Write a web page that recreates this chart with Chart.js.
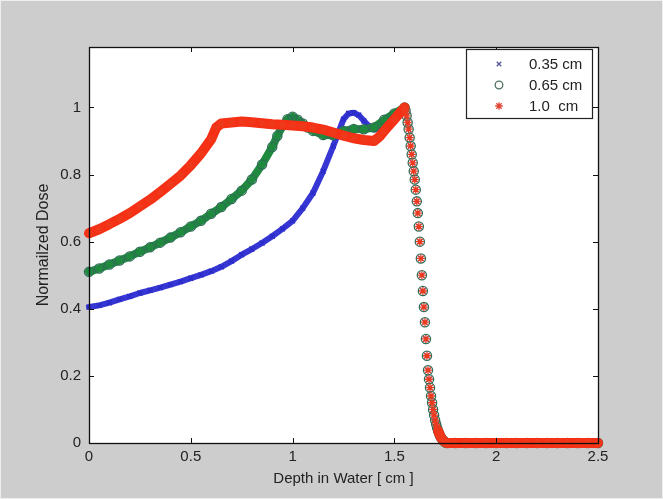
<!DOCTYPE html>
<html>
<head>
<meta charset="utf-8">
<script src="https://cdn.jsdelivr.net/npm/chart.js@4/dist/chart.umd.min.js"></script>
<style>
  html, body { margin: 0; padding: 0; background: #cdcdcd; overflow: hidden; }
  canvas { display: block; }
</style>
</head>
<body>
<canvas id="c" width="663" height="499"></canvas>
<script>
// depth-dose curves (depth in cm, dose normalised)
const seriesLabels = ["0.35 cm", "0.65 cm", "1.0  cm"];

const depth035 = [0, 0.05, 0.1, 0.15, 0.2, 0.25, 0.3, 0.35, 0.4, 0.45, 0.5, 0.55, 0.6, 0.65, 0.7, 0.75, 0.8, 0.85, 0.9, 0.95, 1.0, 1.05, 1.1, 1.15, 1.2,
  1.225, 1.25, 1.275, 1.3, 1.325, 1.35, 1.375, 1.4, 1.425, 1.45, 1.475, 1.5, 1.525, 1.55];
const dose035 = [0.405, 0.41, 0.418, 0.428, 0.437, 0.447, 0.455, 0.463, 0.472, 0.481, 0.491, 0.501, 0.512, 0.525, 0.542, 0.561, 0.578, 0.596, 0.616, 0.638, 0.662, 0.7, 0.745, 0.81, 0.885,
  0.925, 0.965, 0.982, 0.984, 0.977, 0.96, 0.944, 0.935, 0.938, 0.95, 0.964, 0.977, 0.99, 1.0];

const depth065 = [0, 0.05, 0.1, 0.15, 0.2, 0.25, 0.3, 0.35, 0.4, 0.45, 0.5, 0.55, 0.6, 0.65, 0.7, 0.75, 0.8, 0.85,
  0.9, 0.925, 0.95, 0.975, 1.0, 1.025, 1.05, 1.075, 1.1, 1.15, 1.2, 1.25, 1.3, 1.35, 1.4, 1.45, 1.5, 1.55];
const dose065 = [0.51, 0.52, 0.532, 0.544, 0.556, 0.57, 0.583, 0.597, 0.612, 0.628, 0.645, 0.662, 0.683, 0.703, 0.727, 0.752, 0.785, 0.83,
  0.882, 0.915, 0.945, 0.965, 0.972, 0.963, 0.952, 0.94, 0.93, 0.918, 0.917, 0.93, 0.936, 0.935, 0.94, 0.963, 0.982, 1.0];

const depth100 = [0, 0.05, 0.1, 0.15, 0.2, 0.25, 0.3, 0.35, 0.4, 0.45, 0.5, 0.55, 0.6, 0.625, 0.65,
  0.7, 0.75, 0.8, 0.85, 0.9, 0.95, 1.0, 1.05, 1.1, 1.15, 1.2, 1.25, 1.3, 1.35, 1.4, 1.425, 1.45, 1.5, 1.55];
const dose100 = [0.625, 0.637, 0.652, 0.668, 0.685, 0.705, 0.725, 0.748, 0.772, 0.797, 0.828, 0.863, 0.905, 0.94, 0.952,
  0.955, 0.958, 0.956, 0.953, 0.95, 0.948, 0.946, 0.944, 0.94, 0.934, 0.925, 0.916, 0.908, 0.903, 0.9, 0.912, 0.93, 0.965, 1.0];

// distal fall-off and tail are the same for all three widths
const depthFall = [1.555, 1.56, 1.565, 1.57, 1.575, 1.58, 1.585, 1.59, 1.595, 1.6, 1.605, 1.61, 1.615, 1.62, 1.625, 1.63, 1.635, 1.64, 1.645, 1.65,
  1.655, 1.66, 1.665, 1.67, 1.675, 1.68, 1.685, 1.69, 1.695, 1.7, 1.705, 1.71, 1.715, 1.72, 1.725, 1.73, 1.735, 1.74, 1.745, 1.75, 1.755, 1.76];
const doseFall = [0.99, 0.975, 0.955, 0.935, 0.91, 0.885, 0.86, 0.835, 0.81, 0.785, 0.755, 0.72, 0.685, 0.645, 0.6, 0.55, 0.5, 0.453, 0.405, 0.36,
  0.31, 0.26, 0.217, 0.19, 0.165, 0.14, 0.12, 0.1, 0.083, 0.068, 0.056, 0.045, 0.036, 0.028, 0.021, 0.015, 0.011, 0.007, 0.004, 0.002, 0.001, 0];
const depthTail = [1.8, 1.85, 1.9, 1.95, 2.0, 2.05, 2.1, 2.15, 2.2, 2.25, 2.3, 2.35, 2.4, 2.45, 2.5];
const doseTail = [0, 0, 0, 0, 0, 0, 0, 0, 0, 0, 0, 0, 0, 0, 0];

const xTicks = [0, 0.5, 1, 1.5, 2, 2.5];
const yTicks = [0, 0.2, 0.4, 0.6, 0.8, 1];

function pts(d, v) { return d.map((x, i) => ({ x, y: v[i] })); }
function curve(d, v) { return pts(d, v).concat(pts(depthFall, doseFall), pts(depthTail, doseTail)); }

// no band through the steep fall-off, only markers (as in the original)
const gap = c => (c.p0.parsed.x >= 1.55 && c.p0.parsed.y > 0.04) ? "rgba(0,0,0,0)" : undefined;

function ds(label, data, color, marker, pcolor, width, radius, order) {
  return {
    label, data, order,
    showLine: true,
    borderColor: color,
    borderWidth: width,
    borderCapStyle: "round",
    borderJoinStyle: "round",
    segment: { borderColor: gap },
    pointStyle: marker,
    pointRadius: radius,
    pointBorderColor: pcolor,
    pointBackgroundColor: "rgba(0,0,0,0)",
    pointBorderWidth: 1.3,
    clip: false,
  };
}

const font = "'Liberation Sans', Arial, sans-serif";

const frame = {
  id: "frame",
  beforeDraw(chart) {
    const { ctx, chartArea: a } = chart;
    ctx.save();
    ctx.fillStyle = "#cdcdcd";
    ctx.fillRect(0, 0, chart.width, chart.height);
    ctx.strokeStyle = "#eeeeee";
    ctx.strokeRect(0.5, 0.5, chart.width - 1, chart.height - 1);
    ctx.fillStyle = "#ffffff";
    ctx.fillRect(a.left, a.top, a.right - a.left, a.bottom - a.top);
    ctx.restore();
  },
  afterDatasetsDraw(chart) {
    const { ctx, chartArea: a, scales } = chart;
    ctx.save();
    ctx.strokeStyle = "#111";
    ctx.lineWidth = 1;
    ctx.beginPath();
    for (const v of xTicks) {
      const px = Math.round(scales.x.getPixelForValue(v)) + 0.5;
      ctx.moveTo(px, a.bottom); ctx.lineTo(px, a.bottom - 5);
      ctx.moveTo(px, a.top); ctx.lineTo(px, a.top + 5);
    }
    for (const v of yTicks) {
      const py = Math.round(scales.y.getPixelForValue(v)) + 0.5;
      ctx.moveTo(a.left, py); ctx.lineTo(a.left + 5, py);
      ctx.moveTo(a.right, py); ctx.lineTo(a.right - 5, py);
    }
    ctx.stroke();
    ctx.lineWidth = 1.3;
    ctx.strokeRect(Math.round(a.left) + 0.5, Math.round(a.top) + 0.5, Math.round(a.right - a.left), Math.round(a.bottom - a.top));

    // legend box, inside the top right corner
    const bx = a.right - 132, by = a.top + 2, bw = 126, bh = 69;
    ctx.fillStyle = "#fff";
    ctx.fillRect(bx, by, bw, bh);
    ctx.lineWidth = 1.2;
    ctx.strokeStyle = "#222";
    ctx.strokeRect(bx + 0.5, by + 0.5, bw, bh);
    const legendMarks = [["crossRot", "#55559a", 3.2], ["circle", "#4f7060", 3.8], ["star", "#e04a3a", 3.8]];
    ctx.font = "15px " + font;
    ctx.textBaseline = "middle";
    ctx.textAlign = "left";
    seriesLabels.forEach((lab, i) => {
      const y = by + 15 + i * 21;
      ctx.strokeStyle = legendMarks[i][1];
      ctx.fillStyle = "rgba(0,0,0,0)";
      ctx.lineWidth = 1.3;
      Chart.helpers.drawPoint(ctx, { pointStyle: legendMarks[i][0], radius: legendMarks[i][2], borderWidth: 1.3 }, bx + 33, y);
      ctx.fillStyle = "#222";
      ctx.fillText(lab, bx + 63, y + 1);
    });
    ctx.restore();
  },
};

new Chart(document.getElementById("c"), {
  type: "scatter",
  data: {
    datasets: [
      ds(seriesLabels[0], curve(depth035, dose035), "#3636d4", "crossRot", "#2a2ac8", 6, 3.5, 2),
      ds(seriesLabels[1], curve(depth065, dose065), "#1f8a3e", "circle", "#2f6d58", 8, 4.6, 1),
      ds(seriesLabels[2], curve(depth100, dose100), "#f53015", "star", "#ee3a1c", 10, 4, 0),
    ],
  },
  options: {
    responsive: false,
    animation: false,
    events: [],
    layout: { padding: { left: 0, top: 47, right: 65, bottom: 0 } },
    plugins: { legend: { display: false }, tooltip: { enabled: false } },
    scales: {
      x: {
        type: "linear", min: 0, max: 2.5,
        grid: { display: false, drawTicks: false },
        border: { display: false },
        ticks: { stepSize: 0.5, padding: 5, color: "#222", font: { family: font, size: 15 },
                 callback: v => String(Math.round(v * 100) / 100) },
        title: { display: true, text: "Depth in Water [ cm ]", color: "#222",
                 font: { family: font, size: 15 }, padding: { top: 0, bottom: 11 } },
        afterFit: s => { s.height = 56; },
      },
      y: {
        min: 0, max: 1.18,
        grid: { display: false, drawTicks: false },
        border: { display: false },
        ticks: { stepSize: 0.2, includeBounds: false, padding: 8, color: "#222", font: { family: font, size: 15 },
                 callback: v => String(Math.round(v * 100) / 100) },
        title: { display: true, text: "Normailzed Dose", color: "#222",
                 font: { family: font, size: 16 }, padding: { top: 34, bottom: 0 } },
        afterFit: s => { s.width = 89; },
      },
    },
  },
  plugins: [frame],
});
</script>
</body>
</html>
